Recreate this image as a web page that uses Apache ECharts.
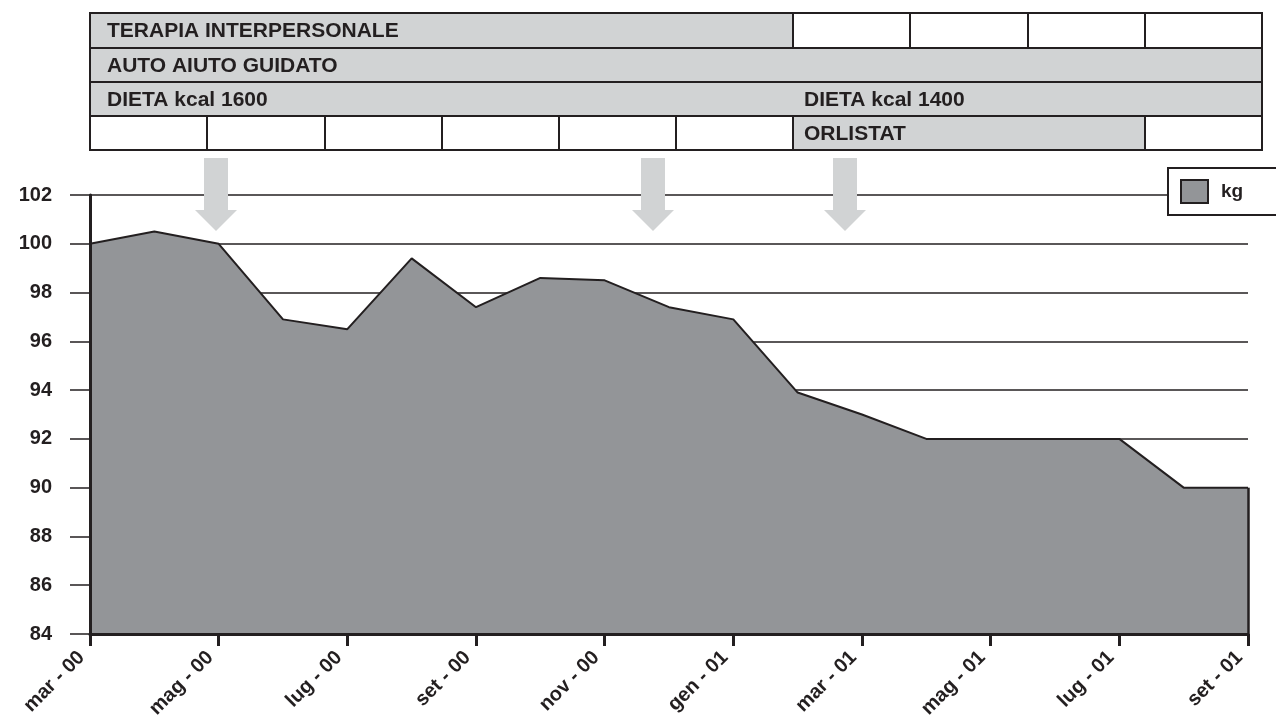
<!DOCTYPE html>
<html>
<head>
<meta charset="utf-8">
<script src="https://cdn.jsdelivr.net/npm/echarts@6/dist/echarts.min.js"></script>
<style>
html,body{margin:0;padding:0;background:#fff;}
#chart{width:1276px;height:728px;}
</style>
</head>
<body>
<div id="chart"></div>
<script>
const months = ['mar - 00','apr - 00','mag - 00','giu - 00','lug - 00','ago - 00','set - 00','ott - 00','nov - 00','dic - 00','gen - 01','feb - 01','mar - 01','apr - 01','mag - 01','giu - 01','lug - 01','ago - 01','set - 01'];
const kg = [100,100.5,100,96.9,96.5,99.4,97.4,98.6,98.5,97.4,96.9,93.9,93,92,92,92,92,90,90];
const seriesName = 'kg';
const therapyLabels = ['TERAPIA INTERPERSONALE','AUTO AIUTO GUIDATO','DIETA kcal 1600','DIETA kcal 1400','ORLISTAT'];

const INK = '#231f20';
const LIGHT = '#d1d3d4';
const DARK = '#939598';
const FONT = '"Liberation Sans", Arial, sans-serif';

const chart = echarts.init(document.getElementById('chart'));

// table geometry
const colX = [90,207,325,442,559,676,793,910,1028,1145,1262];
const rowY = [13,48,82,116,150];
const g = [];
function rect(x1,y1,x2,y2,fill){
  g.push({type:'rect',shape:{x:x1,y:y1,width:x2-x1,height:y2-y1},style:{fill:fill,stroke:INK,lineWidth:2},z:10});
}
function txt(x,y,t){
  g.push({type:'text',x:x,y:y,style:{text:t,fill:INK,font:'bold 21px '+FONT,textVerticalAlign:'middle'},z:11});
}
// row 1
rect(colX[0],rowY[0],colX[6],rowY[1],LIGHT);
for(let i=6;i<10;i++) rect(colX[i],rowY[0],colX[i+1],rowY[1],'#fff');
txt(107,(rowY[0]+rowY[1])/2+1,therapyLabels[0]);
// row 2
rect(colX[0],rowY[1],colX[10],rowY[2],LIGHT);
txt(107,(rowY[1]+rowY[2])/2+1,therapyLabels[1]);
// row 3
rect(colX[0],rowY[2],colX[10],rowY[3],LIGHT);
txt(107,(rowY[2]+rowY[3])/2+1,therapyLabels[2]);
txt(804,(rowY[2]+rowY[3])/2+1,therapyLabels[3]);
// row 4
for(let i=0;i<6;i++) rect(colX[i],rowY[3],colX[i+1],rowY[4],'#fff');
rect(colX[6],rowY[3],colX[9],rowY[4],LIGHT);
rect(colX[9],rowY[3],colX[10],rowY[4],'#fff');
txt(804,(rowY[3]+rowY[4])/2+1,therapyLabels[4]);

// arrows
[216,653,845].forEach(c=>{
  g.push({type:'polygon',shape:{points:[[c-12,158],[c+12,158],[c+12,210],[c+21,210],[c,231],[c-21,210],[c-12,210]]},style:{fill:LIGHT},z:12});
});

chart.setOption({
  animation:false,
  backgroundColor:'#fff',
  textStyle:{fontFamily:FONT},
  grid:{left:90,right:28,top:195,bottom:94},
  legend:{
    data:[seriesName],
    left:1168, top:168,
    padding:[11,60,11,12],
    backgroundColor:'#fff',
    borderColor:INK, borderWidth:2, borderRadius:0,
    icon:'rect', itemWidth:27, itemHeight:23,
    itemStyle:{color:DARK,borderColor:INK,borderWidth:2},
    textStyle:{fontFamily:FONT,fontWeight:'bold',fontSize:19,color:INK,padding:[0,0,0,8]},
    z:20
  },
  xAxis:[{
    type:'category', data:months, boundaryGap:false,
    axisLine:{show:false},
    axisTick:{show:false},
    axisLabel:{interval:1,rotate:45,margin:12,padding:[0,12,0,0],color:INK,fontWeight:'bold',fontSize:20,fontFamily:FONT},
    splitLine:{show:false}
  },{
    type:'category', data:months, boundaryGap:false, position:'bottom', z:10,
    axisLine:{show:true,lineStyle:{color:INK,width:3}},
    axisTick:{show:true,interval:1,length:12,lineStyle:{color:INK,width:3}},
    axisLabel:{show:false},
    splitLine:{show:false}
  }],
  yAxis:[{
    type:'value', min:84, max:102, interval:2,
    axisLine:{show:false},
    axisTick:{show:true,length:20,lineStyle:{color:INK,width:1.5}},
    axisLabel:{margin:38,color:INK,fontWeight:'bold',fontSize:20,fontFamily:FONT},
    splitLine:{show:true,lineStyle:{color:INK,width:1.5}}
  },{
    type:'value', min:84, max:102, interval:2, position:'left', z:10,
    axisLine:{show:true,lineStyle:{color:INK,width:3}},
    axisTick:{show:false},
    axisLabel:{show:false},
    splitLine:{show:false}
  }],
  series:[{
    name:seriesName, type:'line', data:kg,
    xAxisIndex:0, yAxisIndex:0,
    symbol:'none',
    lineStyle:{color:INK,width:2},
    itemStyle:{color:DARK},
    areaStyle:{color:DARK,opacity:1,origin:'start'},
    markLine:{
      silent:true, symbol:['none','none'], label:{show:false},
      lineStyle:{color:INK,width:2.5,type:'solid'},
      data:[[{coord:[months[months.length-1],kg[kg.length-1]]},{coord:[months[months.length-1],84]}]]
    },
    z:3
  }],
  graphic:g
});
</script>
</body>
</html>
